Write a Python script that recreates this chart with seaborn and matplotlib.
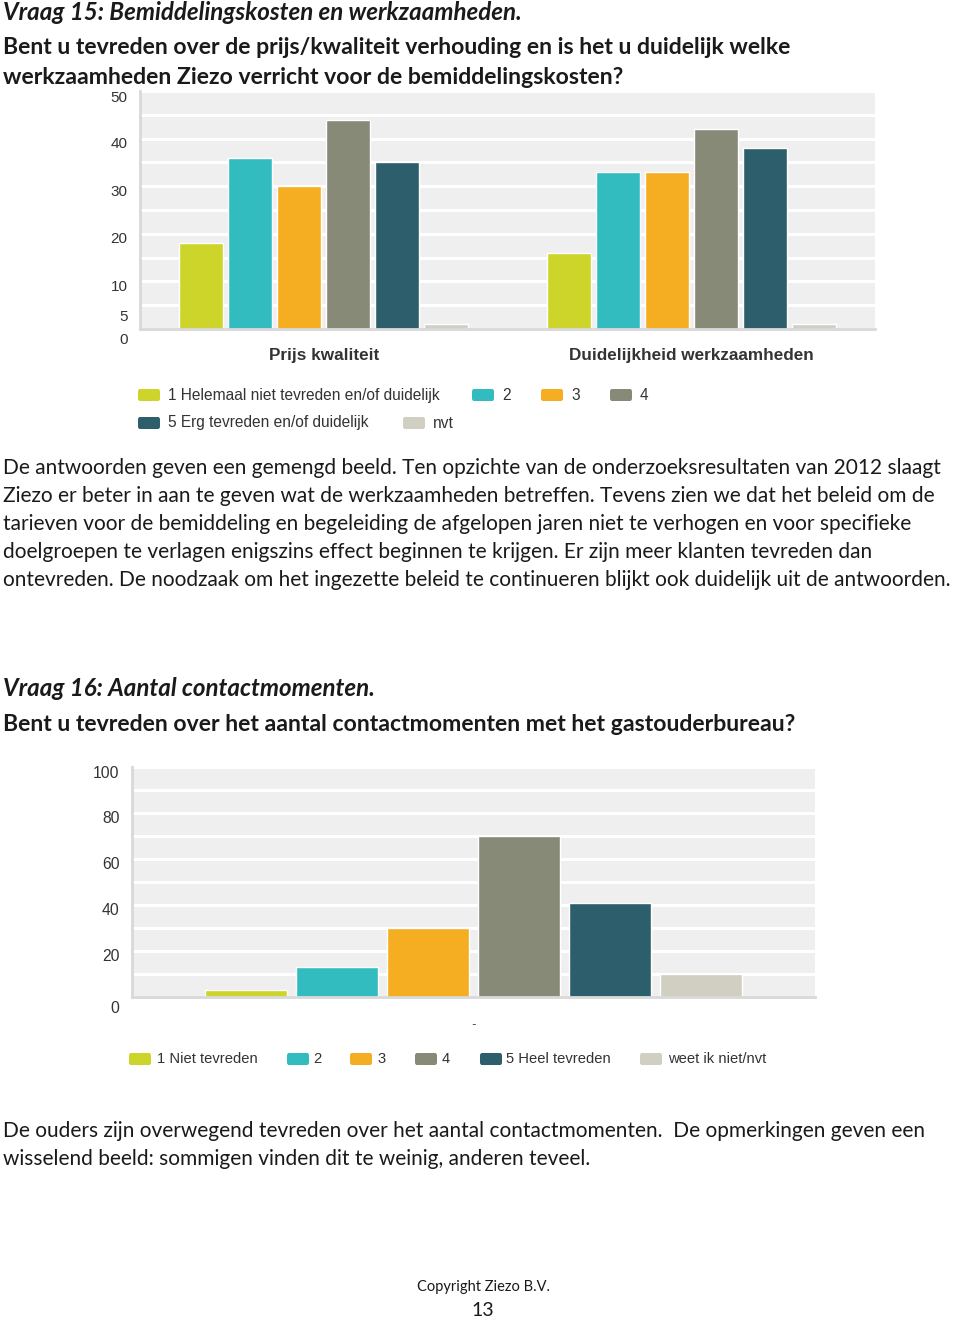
"""
plot.py

Recreates page 13 of the Ziezo client survey: two grouped bar charts
(Vraag 15 and Vraag 16) with their question headings and commentary.
"""

import matplotlib
matplotlib.use("Agg")

import matplotlib.pyplot as plt
import matplotlib.transforms as mtransforms
from matplotlib.patches import FancyBboxPatch
import seaborn as sns
import pandas as pd

W, H = 960, 1320

# --- Vraag 15 data ---------------------------------------------------------
q15_categories = ["Prijs kwaliteit", "Duidelijkheid werkzaamheden"]
q15_answers = ["1 Helemaal niet tevreden en/of duidelijk", "2", "3", "4",
               "5 Erg tevreden en/of duidelijk", "nvt"]
q15_prijs = [18, 36, 30, 44, 35, 1]
q15_duidelijk = [16, 33, 33, 42, 38, 1]
q15_yticks = [0, 5, 10, 20, 30, 40, 50]

# --- Vraag 16 data ---------------------------------------------------------
q16_category = "-"
q16_answers = ["1 Niet tevreden", "2", "3", "4", "5 Heel tevreden",
               "weet ik niet/nvt"]
q16_values = [3, 13, 30, 70, 41, 10]
q16_yticks = [0, 20, 40, 60, 80, 100]

colors = ["#CDD42A", "#33BCC0", "#F5AE22", "#888A78", "#2D5E6B", "#D1CFC2"]

BODY_FONT = "Lato"
CHART_FONT = "Liberation Sans"
TEXT_COLOR = "#1a1a1a"


def px(x, y):
    """Pixel position (from top-left) -> figure fraction."""
    return x / W, 1 - y / H


def add_axes_px(fig, left, top, right, bottom):
    return fig.add_axes([left / W, 1 - bottom / H, (right - left) / W,
                         (bottom - top) / H])


def style_axes(ax, ymax, grid_step, yticks, label_dy, labelsize):
    ax.set_facecolor("#EFEFEF")
    ax.set_ylim(0, ymax)
    ax.set_yticks(yticks)
    ax.set_yticks(range(0, ymax + 1, grid_step), minor=True)
    ax.grid(axis="y", which="both", color="white", linewidth=2.2)
    ax.grid(axis="x", visible=False)
    ax.set_axisbelow(True)
    for side in ("top", "right"):
        ax.spines[side].set_visible(False)
    for side in ("left", "bottom"):
        ax.spines[side].set_color("#D8D8D8")
        ax.spines[side].set_linewidth(2)
    ax.tick_params(axis="both", which="both", length=0)
    ax.tick_params(axis="y", labelsize=labelsize, labelcolor="#333333", pad=9)
    ax.set_xlabel("")
    ax.set_ylabel("")
    # the original chart draws its value labels a little below the gridlines
    for lab, dy in zip(ax.get_yticklabels(), label_dy):
        lab.set_fontfamily(CHART_FONT)
        off = mtransforms.ScaledTranslation(0, -dy / 100, ax.figure.dpi_scale_trans)
        lab.set_transform(lab.get_transform() + off)


def legend_row(fig, items, y, size):
    """items: list of (patch_x, text_x, label, color)."""
    for patch_x, text_x, label, color in items:
        x0, y0 = px(patch_x, y + 6)
        fig.patches.append(FancyBboxPatch(
            (x0, y0), 22 / W, 12 / H,
            boxstyle="round,pad=0,rounding_size=0.002",
            transform=fig.transFigure, facecolor=color, edgecolor="none"))
        tx, ty = px(text_x, y)
        fig.text(tx, ty, label, fontsize=size, family=CHART_FONT,
                 color="#333333", va="center", ha="left")


def body_text(fig, x, y, s, size=15.0, weight="normal", style="normal", ha="left"):
    fx, fy = px(x, y)
    fig.text(fx, fy, s, fontsize=size, family=BODY_FONT, weight=weight,
             style=style, color=TEXT_COLOR, va="center", ha=ha)


def main():
    sns.set_theme(style="white")
    plt.rcParams["font.family"] = [BODY_FONT, "DejaVu Sans"]

    fig = plt.figure(figsize=(W / 100, H / 100), dpi=100)
    fig.patch.set_facecolor("white")

    # --- headings Vraag 15 ---------------------------------------------------
    body_text(fig, 3, 12, "Vraag 15: Bemiddelingskosten en werkzaamheden.",
              size=17.4, weight="bold", style="italic")
    body_text(fig, 3, 47, "Bent u tevreden over de prijs/kwaliteit verhouding en is het u duidelijk welke",
              size=16.6, weight="bold")
    body_text(fig, 3, 77, "werkzaamheden Ziezo verricht voor de bemiddelingskosten?",
              size=16.6, weight="bold")

    # --- chart Vraag 15 ------------------------------------------------------
    df15 = pd.DataFrame({
        "categorie": [c for c in q15_categories for _ in q15_answers],
        "antwoord": q15_answers * 2,
        "aantal": q15_prijs + q15_duidelijk,
    })
    ax1 = add_axes_px(fig, 140, 91, 875, 329)
    sns.barplot(data=df15, x="categorie", y="aantal", hue="antwoord",
                hue_order=q15_answers, palette=colors, width=0.8, gap=0.1,
                saturation=1, legend=False, ax=ax1)
    style_axes(ax1, 50, 5, q15_yticks, label_dy=[10, 10, 4, 4, 4, 4, 5],
               labelsize=11)
    ax1.tick_params(axis="x", pad=14)
    for lab in ax1.get_xticklabels():
        lab.set_fontfamily(CHART_FONT)
        lab.set_fontweight("bold")
        lab.set_fontsize(12.3)
        lab.set_color("#333333")

    legend_row(fig, [
        (138, 168, q15_answers[0], colors[0]),
        (472, 502, q15_answers[1], colors[1]),
        (541, 571, q15_answers[2], colors[2]),
        (610, 640, q15_answers[3], colors[3]),
    ], 395, 11.2)
    legend_row(fig, [
        (138, 168, q15_answers[4], colors[4]),
        (403, 433, q15_answers[5], colors[5]),
    ], 423, 11.2)

    # --- commentary Vraag 15 -------------------------------------------------
    para1 = [
        "De antwoorden geven een gemengd beeld. Ten opzichte van de onderzoeksresultaten van 2012 slaagt",
        "Ziezo er beter in aan te geven wat de werkzaamheden betreffen. Tevens zien we dat het beleid om de",
        "tarieven voor de bemiddeling en begeleiding de afgelopen jaren niet te verhogen en voor specifieke",
        "doelgroepen te verlagen enigszins effect beginnen te krijgen. Er zijn meer klanten tevreden dan",
        "ontevreden. De noodzaak om het ingezette beleid te continueren blijkt ook duidelijk uit de antwoorden.",
    ]
    for i, line in enumerate(para1):
        body_text(fig, 3, 468 + 28 * i, line)

    # --- headings Vraag 16 ---------------------------------------------------
    body_text(fig, 3, 689, "Vraag 16: Aantal contactmomenten.",
              size=17.4, weight="bold", style="italic")
    body_text(fig, 3, 725, "Bent u tevreden over het aantal contactmomenten met het gastouderbureau?",
              size=16.6, weight="bold")

    # --- chart Vraag 16 ------------------------------------------------------
    df16 = pd.DataFrame({
        "categorie": [q16_category] * len(q16_answers),
        "antwoord": q16_answers,
        "aantal": q16_values,
    })
    ax2 = add_axes_px(fig, 132, 767, 815, 997)
    sns.barplot(data=df16, x="categorie", y="aantal", hue="antwoord",
                hue_order=q16_answers, palette=colors, width=0.8, gap=0.1,
                saturation=1, legend=False, ax=ax2)
    style_axes(ax2, 100, 10, q16_yticks, label_dy=[10, 4, 4, 4, 4, 5],
               labelsize=11.3)
    ax2.tick_params(axis="x", pad=16, labelsize=9, labelcolor="#555555")

    legend_row(fig, [
        (129, 157, q16_answers[0], colors[0]),
        (287, 313, q16_answers[1], colors[1]),
        (350, 377, q16_answers[2], colors[2]),
        (415, 442, q16_answers[3], colors[3]),
        (480, 506, q16_answers[4], colors[4]),
        (640, 668, q16_answers[5], colors[5]),
    ], 1059, 10.6)

    # --- commentary Vraag 16 -------------------------------------------------
    body_text(fig, 3, 1131, "De ouders zijn overwegend tevreden over het aantal contactmomenten.  De opmerkingen geven een")
    body_text(fig, 3, 1159, "wisselend beeld: sommigen vinden dit te weinig, anderen teveel.")

    # --- footer --------------------------------------------------------------
    body_text(fig, 483, 1287, "Copyright Ziezo B.V.", size=10.5, ha="center")
    body_text(fig, 483, 1310, "13", size=14, ha="center")

    fig.savefig("out.png", dpi=100, facecolor="white")
    plt.close(fig)


if __name__ == "__main__":
    main()
